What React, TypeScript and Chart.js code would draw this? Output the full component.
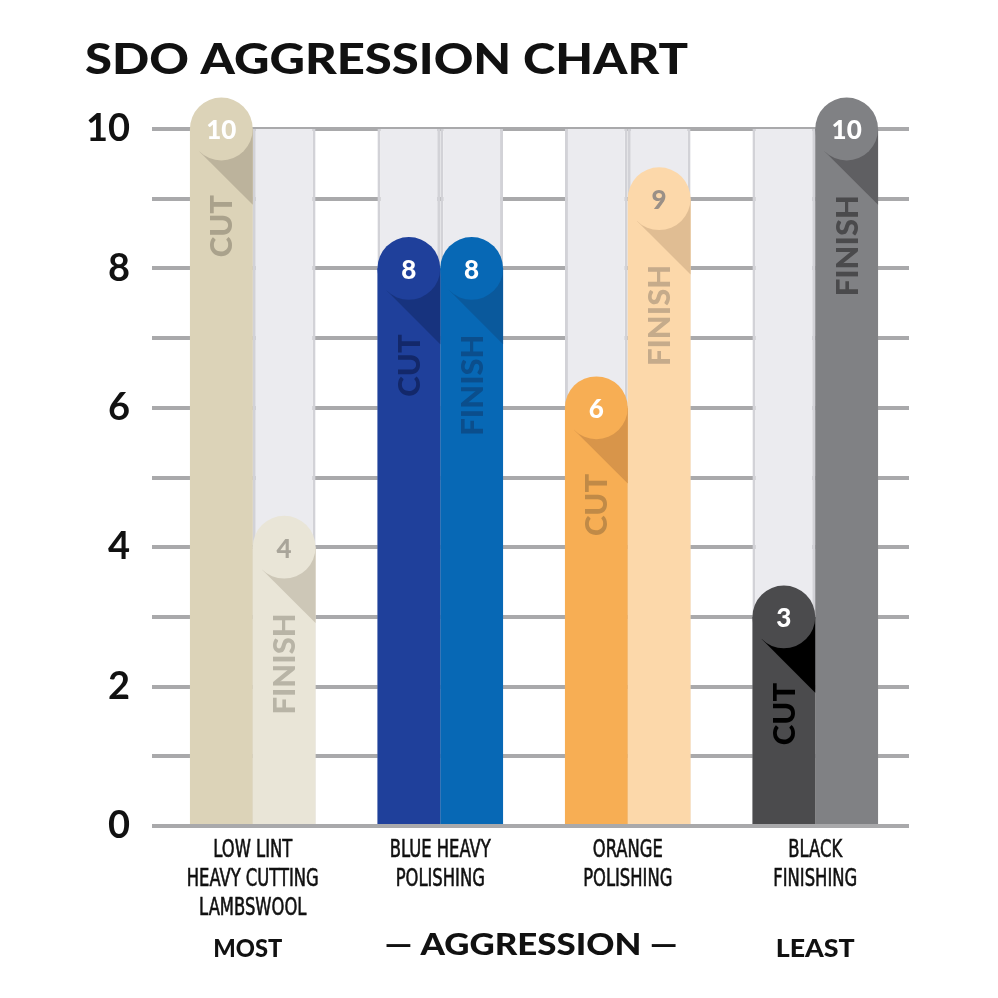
import React, { useEffect, useRef } from 'react';
import { Chart, registerables } from 'chart.js';

Chart.register(...registerables);

// ---------- data ----------
const categories: string[][] = [
  ['LOW LINT', 'HEAVY CUTTING', 'LAMBSWOOL'],
  ['BLUE HEAVY', 'POLISHING'],
  ['ORANGE', 'POLISHING'],
  ['BLACK', 'FINISHING'],
];
const cutValues = [10, 8, 6, 3];
const finishValues = [4, 8, 9, 10];
const scaleMaxValues = [10, 10, 10, 10];
const yTickLabels = ['0', '2', '4', '6', '8', '10'];
const seriesNames = ['CUT', 'FINISH'];
const chartTitle = 'SDO AGGRESSION CHART';
const footerLabels = ['MOST', '— AGGRESSION —', 'LEAST'];

// ---------- styles ----------
const cutColors = ['#dcd3b8', '#1f409b', '#f7ae54', '#4b4b4d'];
const cutShadow = ['#bcb39c', '#17337e', '#d8954a', '#000000'];
const cutTextColors = ['#aaa28c', '#13286a', '#c08a47', '#000000'];
const cutNumColors = ['#ffffff', '#ffffff', '#ffffff', '#ffffff'];
const finishColors = ['#e9e5d7', '#0768b5', '#fcd8aa', '#808184'];
const finishShadow = ['#cdc7b7', '#0a599c', '#e0bd93', '#5f5f62'];
const finishTextColors = ['#b8b4a6', '#0b4e8c', '#c5ab8b', '#4a4a4c'];
const finishNumColors = ['#a9a59a', '#ffffff', '#9a9087', '#ffffff'];

const BOLD = "Lato, 'DejaVu Sans', sans-serif";
const NARROW = "'Liberation Sans Narrow', 'DejaVu Sans Condensed', sans-serif";

const capsPlugin = {
  id: 'caps',
  afterDatasetsDraw(chart: any) {
    const ctx = chart.ctx;
    const specs = [
      { ds: 2, fill: cutColors, shadow: cutShadow, text: cutTextColors, num: cutNumColors, values: cutValues, name: seriesNames[0] },
      { ds: 3, fill: finishColors, shadow: finishShadow, text: finishTextColors, num: finishNumColors, values: finishValues, name: seriesNames[1] },
    ];
    for (const s of specs) {
      const meta = chart.getDatasetMeta(s.ds);
      meta.data.forEach((el: any, i: number) => {
        const { x, y, width } = el.getProps(['x', 'y', 'width'], true);
        const r = width / 2;
        const k = Math.SQRT1_2;
        const tx = x - r * k;
        const ty = y + r * k;
        ctx.save();
        ctx.fillStyle = s.shadow[i];
        ctx.beginPath();
        ctx.moveTo(tx, ty);
        ctx.lineTo(x + r, ty + (x + r - tx));
        ctx.lineTo(x + r, y);
        ctx.closePath();
        ctx.fill();
        ctx.fillStyle = s.fill[i];
        ctx.beginPath();
        ctx.arc(x, y, r, 0, Math.PI * 2);
        ctx.fill();
        ctx.fillStyle = s.num[i];
        ctx.font = `900 26px ${BOLD}`;
        ctx.textAlign = 'center';
        ctx.textBaseline = 'middle';
        ctx.fillText(String(s.values[i]), x, y + 2);
        ctx.translate(x, y + 66);
        ctx.rotate(-Math.PI / 2);
        ctx.fillStyle = s.text[i];
        ctx.font = `900 31px ${BOLD}`;
        ctx.textAlign = 'right';
        ctx.textBaseline = 'middle';
        ctx.fillText(s.name, 0, 1);
        ctx.restore();
      });
    }
  },
};

const textPlugin = {
  id: 'texts',
  afterDraw(chart: any) {
    const ctx = chart.ctx;
    const xs = chart.scales.x;
    const area = chart.chartArea;
    ctx.save();
    // title
    ctx.fillStyle = '#111111';
    ctx.font = `900 42px ${BOLD}`;
    ctx.textAlign = 'left';
    ctx.textBaseline = 'alphabetic';
    const tw = ctx.measureText(chartTitle).width;
    ctx.save();
    ctx.translate(85, 74);
    ctx.scale(603 / tw, 1);
    ctx.fillText(chartTitle, 0, 0);
    ctx.restore();

    // category labels
    ctx.font = `400 25px ${NARROW}`;
    const ref = ctx.measureText('HEAVY CUTTING').width;
    const f = 132 / ref;
    ctx.fillStyle = '#111111';
    ctx.strokeStyle = '#111111';
    ctx.lineWidth = 0.6;
    ctx.textAlign = 'center';
    ctx.textBaseline = 'middle';
    categories.forEach((lines, i) => {
      const cx = xs.getPixelForValue(i);
      lines.forEach((ln, j) => {
        ctx.save();
        ctx.translate(cx, area.bottom + 24 + j * 29);
        ctx.scale(f, 1);
        ctx.fillText(ln, 0, 0);
        ctx.strokeText(ln, 0, 0);
        ctx.restore();
      });
    });

    // footer
    ctx.fillStyle = '#111111';
    const drawFit = (txt: string, cx: number, cy: number, size: number, w: number) => {
      ctx.font = `900 ${size}px ${BOLD}`;
      const m = ctx.measureText(txt).width;
      ctx.save();
      ctx.translate(cx, cy);
      ctx.scale(w / m, 1);
      ctx.fillText(txt, 0, 0);
      ctx.restore();
    };
    const p0 = xs.getPixelForValue(0);
    const p1 = xs.getPixelForValue(1);
    const p2 = xs.getPixelForValue(2);
    const p3 = xs.getPixelForValue(3);
    drawFit(footerLabels[0], p0 - 5, 949, 24, 69);
    drawFit(footerLabels[1], (p1 + p2) / 2 - 3, 945, 31, 293);
    drawFit(footerLabels[2], p3, 949, 24, 79);
    ctx.restore();
  },
};

export default function App() {
  const ref = useRef<HTMLCanvasElement | null>(null);
  useEffect(() => {
    if (!ref.current) return;
    const labels = categories.map((c) => c.join(' '));
    const chart = new Chart(ref.current, {
      type: 'bar',
      data: {
        labels,
        datasets: [
          {
            label: 'cut-bg',
            data: scaleMaxValues,
            stack: 'cut',
            order: 3,
            backgroundColor: '#ebebef',
            borderColor: '#d2d2d7',
            borderWidth: { left: 3, right: 3, top: 0, bottom: 0 },
            borderSkipped: false,
          },
          {
            label: 'finish-bg',
            data: scaleMaxValues,
            stack: 'finish',
            order: 3,
            backgroundColor: '#ebebef',
            borderColor: '#d2d2d7',
            borderWidth: { left: 3, right: 3, top: 0, bottom: 0 },
            borderSkipped: false,
          },
          {
            label: seriesNames[0],
            data: cutValues,
            stack: 'cut',
            order: 1,
            backgroundColor: cutColors,
            borderWidth: 0,
          },
          {
            label: seriesNames[1],
            data: finishValues,
            stack: 'finish',
            order: 1,
            backgroundColor: finishColors,
            borderWidth: 0,
          },
        ],
      },
      options: {
        animation: false,
        responsive: true,
        maintainAspectRatio: false,
        layout: { padding: { top: 129, right: 89, bottom: 76, left: 0 } },
        plugins: {
          legend: { display: false },
          tooltip: { enabled: false },
          title: { display: false },
        },
        datasets: { bar: { categoryPercentage: 0.67, barPercentage: 1 } },
        scales: {
          x: {
            stacked: true,
            offset: true,
            grid: { display: false, drawTicks: false },
            border: { display: false },
            ticks: { display: false },
            afterFit: (s: any) => {
              s.height = 96;
            },
          },
          y: {
            stacked: false,
            min: 0,
            max: 10,
            border: { display: false },
            grid: {
              color: '#a9a9ab',
              lineWidth: 4,
              drawTicks: true,
              tickLength: 7,
              tickColor: '#a9a9ab',
            },
            ticks: {
              stepSize: 1,
              padding: 22,
              color: '#111111',
              font: { family: BOLD, size: 38, weight: 'bold' as any },
              callback: (v: any) => (yTickLabels.includes(String(v)) ? String(v) : ''),
            },
            afterFit: (s: any) => {
              s.width = 159;
            },
          },
        },
      },
      plugins: [capsPlugin, textPlugin],
    });
    return () => chart.destroy();
  }, []);
  return (
    <div style={{ position: 'absolute', left: 0, top: 0, width: 998, height: 998, background: '#ffffff' }}>
      <canvas ref={ref} />
    </div>
  );
}
